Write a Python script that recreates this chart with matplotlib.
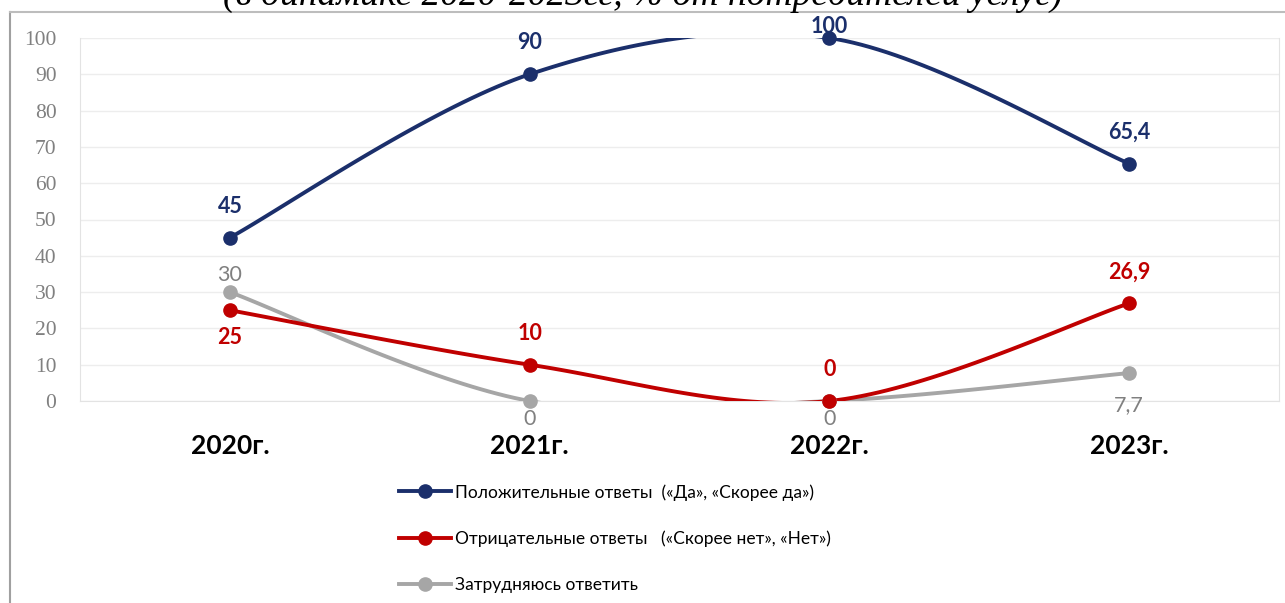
import numpy as np
import matplotlib.pyplot as plt
from matplotlib.lines import Line2D

# Данные диаграммы
years = ["2020г.", "2021г.", "2022г.", "2023г."]
positive = [45, 90, 100, 65.4]
negative = [25, 10, 0, 26.9]
unsure = [30, 0, 0, 7.7]

pos_labels = ["45", "90", "100", "65,4"]
neg_labels = ["25", "10", "0", "26,9"]
uns_labels = ["30", "0", "0", "7,7"]

legend_names = ["Положительные ответы  («Да», «Скорее да»)",
                "Отрицательные ответы   («Скорее нет», «Нет»)",
                "Затрудняюсь ответить"]

c_blue = "#1B2F6B"
c_red = "#C00000"
c_gray = "#A6A6A6"


def smooth(y, n=40):
    # сглаживание как в Excel (Catmull-Rom)
    x = np.arange(len(y), dtype=float)
    p = np.column_stack([x, np.array(y, dtype=float)])
    pts = [p[0]]
    for i in range(len(p) - 1):
        p0 = p[i - 1] if i > 0 else p[i]
        p1, p2 = p[i], p[i + 1]
        p3 = p[i + 2] if i + 2 < len(p) else p[i + 1]
        c1 = p1 + (p2 - p0) / 6
        c2 = p2 - (p3 - p1) / 6
        t = np.linspace(0, 1, n)[1:, None]
        seg = ((1 - t) ** 3) * p1 + 3 * ((1 - t) ** 2) * t * c1 + 3 * (1 - t) * t ** 2 * c2 + t ** 3 * p2
        pts.extend(seg)
    pts = np.array(pts)
    return pts[:, 0], pts[:, 1]


fig = plt.figure(figsize=(12.85, 6.03), dpi=100)
ax = fig.add_axes([80 / 1285, 1 - 401 / 603, 1199 / 1285, 363 / 603])

xs = np.arange(len(years))
for vals, col in [(unsure, c_gray), (negative, c_red), (positive, c_blue)]:
    sx, sy = smooth(vals)
    ax.plot(sx, sy, color=col, lw=2.8, solid_capstyle="round", zorder=3)
    ax.plot(xs, vals, "o", color=col, ms=9.5, clip_on=False, zorder=4)

# подписи значений
lab_size = 15.5
for i in range(len(years)):
    ax.annotate(pos_labels[i], (xs[i], positive[i]), xytext=(0, 15 if i != 2 else 1),
                textcoords="offset points", ha="center", va="bottom",
                fontsize=lab_size, fontweight="bold", color=c_blue, family="Lato", zorder=5)
neg_off = [-12, 15, 15, 15]
for i in range(len(years)):
    ax.annotate(neg_labels[i], (xs[i], negative[i]), xytext=(0, neg_off[i]),
                textcoords="offset points", ha="center",
                va="bottom" if neg_off[i] > 0 else "top",
                fontsize=lab_size, fontweight="bold", color=c_red, family="Lato", zorder=5)
uns_off = [5, -6, -6, -16]
for i in range(len(years)):
    ax.annotate(uns_labels[i], (xs[i], unsure[i]), xytext=(0, uns_off[i]),
                textcoords="offset points", ha="center",
                va="bottom" if uns_off[i] > 0 else "top",
                fontsize=lab_size, color="#808080", family="Lato", zorder=5)

ax.set_xlim(-0.5, 3.5)
ax.set_ylim(0, 100)
ax.set_yticks(range(0, 101, 10))
ax.set_xticks(xs)
ax.set_xticklabels(years, fontsize=19, fontweight="bold", family="Lato")
ax.tick_params(axis="x", length=0, pad=24)
ax.tick_params(axis="y", length=0, pad=17, labelsize=15.5, labelcolor="#808080")
for lab in ax.get_yticklabels():
    lab.set_family("Liberation Serif")
ax.grid(axis="y", color="#EDEDED", lw=1)
ax.set_axisbelow(True)
for s in ["left", "right", "bottom"]:
    ax.spines[s].set_color("#E3E3E3")
ax.spines["top"].set_visible(False)

# легенда
handles = [Line2D([0], [0], color=c, lw=2.8, marker="o", ms=9.5) for c in (c_blue, c_red, c_gray)]
leg = fig.legend(handles, legend_names, loc="upper left", bbox_to_anchor=(392 / 1285, 1 - 477 / 603),
                 frameon=False, handlelength=3.0, handletextpad=0.2,
                 labelspacing=1.72, borderaxespad=0,
                 prop={"family": "Lato", "size": 12.5})

# рамка и обрезанный заголовок
fig.add_artist(Line2D([10 / 1285, 10 / 1285], [0, 1 - 12 / 603], color="#A0A0A0", lw=1.5))
fig.add_artist(Line2D([10 / 1285, 1], [1 - 12 / 603, 1 - 12 / 603], color="#BDBDBD", lw=1.5))
fig.text(0.5, 1 - 5 / 603, "(в динамике 2020-2023гг, % от потребителей услуг)",
         ha="center", va="baseline", fontsize=27, fontstyle="italic", family="Liberation Serif")

fig.savefig("out.png", dpi=100)
